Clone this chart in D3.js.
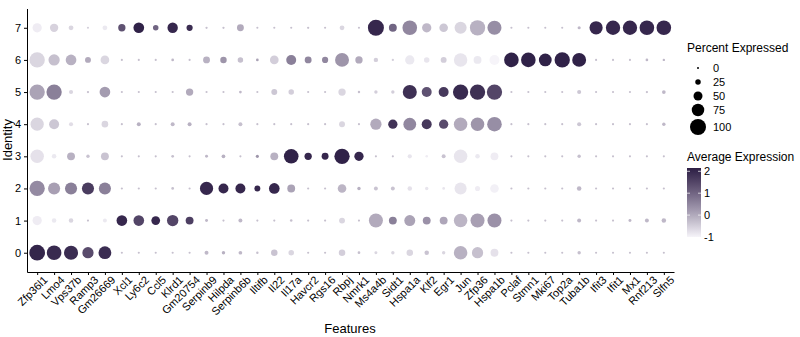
<!DOCTYPE html>
<html><head><meta charset="utf-8">
<script src="https://cdn.jsdelivr.net/npm/d3@7"></script>
<style>
body{margin:0;background:#fff;}
text{font-family:"Liberation Sans",Arial,sans-serif;}
</style></head>
<body><svg id="c" width="800" height="337"></svg>
<script>
const genes = ["Zfp36l1","Lmo4","Vps37b","Ramp3","Gm26669","Xcl1","Ly6c2","Ccl5","Klrd1","Gm20754","Serpinb9","Hilpda","Serpinb6b","Iltifb","Il22","Il17a","Havcr2","Rgs16","Rbpj","Nmrk1","Ms4a4b","Sidt1","Hspa1a","Klf2","Egr1","Jun","Zfp36","Hspa1b","Pclaf","Stmn1","Mki67","Top2a","Tuba1b","Ifit3","Ifit1","Mx1","Rnf213","Slfn5"];
const identities = ["0","1","2","3","4","5","6","7"];

// percent expressed per identity (one value per gene)
const pct0 = [98,90,86,66,77,1,1,1,1,1,14,10,12,3,32,25,1,1,32,5,7,10,32,18,10,82,66,42,1,1,1,1,10,1,1,1,1,1];
const pct1 = [52,18,18,1,14,62,62,48,67,42,7,1,14,1,1,4,1,1,28,1,86,42,64,42,42,82,86,86,1,1,1,1,14,1,1,7,14,18];
const pct2 = [95,72,72,72,72,1,1,1,5,1,80,57,57,28,62,42,1,1,47,10,14,14,18,10,5,72,22,47,1,1,1,1,18,1,1,1,1,1];
const pct3 = [82,18,42,10,42,1,1,1,5,1,7,12,1,8,42,90,38,35,95,52,1,1,16,4,14,82,18,42,1,1,1,1,10,1,1,1,1,1];
const pct4 = [80,57,15,1,33,1,14,1,14,14,1,1,14,1,1,1,1,1,28,1,66,52,77,57,52,82,82,90,1,1,1,1,15,1,1,1,1,10];
const pct5 = [95,95,15,2,62,1,1,1,1,38,1,1,5,1,28,25,1,1,38,3,10,10,86,57,57,95,95,95,1,1,1,1,15,1,1,1,2,12];
const pct6 = [95,66,62,28,48,1,1,1,5,1,35,32,25,5,48,57,35,30,85,38,17,2,52,25,28,82,42,57,90,90,77,95,85,1,1,1,5,3];
const pct7 = [52,45,20,1,20,38,62,25,60,30,2,2,35,1,1,1,2,1,20,1,100,42,90,52,47,72,95,86,1,1,1,1,8,80,88,88,90,90];

// average (scaled) expression per identity
const exp0 = [2.05,1.95,1.9,1.4,1.9,-0.3,-0.3,-0.3,-0.3,-0.3,-0.2,-0.1,-0.2,-0.3,-0.35,-0.6,-0.3,-0.3,-0.5,-0.3,-0.6,-0.6,-0.6,-0.35,-0.6,-0.1,-0.3,-0.75,-0.3,-0.3,-0.3,-0.3,-0.3,-0.3,-0.3,-0.3,-0.3,-0.3];
const exp1 = [-0.9,-0.85,-0.6,-0.3,-0.85,2.0,1.5,2.0,1.5,1.6,-0.2,-0.3,-0.2,-0.3,-0.3,-0.3,-0.3,-0.3,-0.6,-0.3,0.0,0.6,0.1,0.35,0.05,-0.15,0.15,0.35,-0.3,-0.3,-0.3,-0.3,-0.2,-0.3,-0.3,-0.2,-0.2,-0.2];
const exp2 = [0.45,0.15,0.6,1.65,0.6,-0.3,-0.3,-0.3,-0.3,-0.3,2.0,2.0,2.0,2.0,2.0,0.1,-0.3,-0.3,-0.15,-0.1,-0.35,-0.35,-0.75,-0.8,-0.8,-0.8,-0.9,-0.95,-0.3,-0.3,-0.3,-0.3,-0.2,-0.3,-0.3,-0.3,-0.3,-0.3];
const exp3 = [-0.75,-0.85,-0.1,-0.35,-0.35,-0.3,-0.3,-0.3,-0.3,-0.3,-0.2,-0.1,-0.3,0.3,-0.1,2.1,2.0,2.0,2.1,2.0,-0.3,-0.3,-0.8,-0.9,-0.35,-0.8,-0.85,-0.9,-0.3,-0.3,-0.3,-0.3,-0.3,-0.3,-0.3,-0.3,-0.3,-0.3];
const exp4 = [-0.6,-0.4,-0.7,-0.3,-0.6,-0.3,-0.1,-0.3,-0.2,-0.1,-0.3,-0.3,-0.3,-0.3,-0.3,-0.3,-0.3,-0.3,-0.6,-0.3,0.0,1.8,0.5,1.7,1.4,0.0,0.3,0.4,-0.3,-0.3,-0.3,-0.3,-0.4,-0.3,-0.3,-0.3,-0.3,-0.2];
const exp5 = [0.1,0.6,-0.6,-0.3,0.2,-0.3,-0.3,-0.3,-0.3,0.0,-0.3,-0.3,-0.2,-0.3,-0.4,-0.5,-0.3,-0.3,-0.6,-0.3,-0.5,-0.5,1.85,1.3,1.7,1.95,1.85,1.5,-0.3,-0.3,-0.3,-0.3,-0.4,-0.3,-0.3,-0.3,-0.3,-0.2];
const exp6 = [-0.6,-0.3,-0.1,0.0,-0.6,-0.3,-0.3,-0.3,-0.2,-0.3,-0.1,0.3,-0.3,0.1,-0.5,0.6,0.5,0.5,0.3,0.0,-0.5,-0.5,-0.85,-0.8,-0.5,-0.8,-0.85,-1.0,2.1,2.1,2.1,2.1,2.1,-0.3,-0.3,-0.3,-0.2,-0.2];
const exp7 = [-0.9,-0.55,-0.6,-0.5,-0.85,1.3,2.1,1.0,2.0,1.9,-0.3,-0.3,0.0,-0.3,-0.3,-0.3,-0.3,-0.3,-0.6,-0.3,2.0,1.0,0.5,-0.2,-0.4,-0.6,-0.1,0.4,-0.3,-0.3,-0.3,-0.3,-0.2,2.0,2.0,2.0,2.0,2.0];

const pctTicks = [0,25,50,75,100];
const expTicks = [-1,0,1,2];

const pctRows = [pct0,pct1,pct2,pct3,pct4,pct5,pct6,pct7];
const expRows = [exp0,exp1,exp2,exp3,exp4,exp5,exp6,exp7];
const data = [];
identities.forEach((id,r)=>genes.forEach((g,c)=>data.push({gene:g,id:id,pct:pctRows[r][c],exp:expRows[r][c]})));

const svg = d3.select("#c");
const x = d3.scalePoint().domain(genes).range([27,674]).padding(0.6);
const y = d3.scalePoint().domain(identities).range([272,8.5]).padding(0.6);
const rad = d3.scaleLinear().domain([0,100]).range([1,8]);
const expMin=-1, expMax=2.15;
const col = d3.scaleLinear().domain([expMin,expMax]).range(["#f6f4f9","#2d1f45"]).interpolate(d3.interpolateLab).clamp(true);

svg.append("g").selectAll("circle").data(data).join("circle")
  .attr("cx",d=>x(d.gene)).attr("cy",d=>y(d.id))
  .attr("r",d=>rad(d.pct)).attr("fill",d=>col(d.exp));

const ax = svg.append("g").attr("transform","translate(0,272)")
  .call(d3.axisBottom(x).tickSize(3).tickSizeOuter(0));
ax.selectAll("text").attr("transform",d=>"translate(3,1) rotate(-45)")
  .attr("text-anchor","end").attr("dy","0.71em").attr("y",3).attr("x",0)
  .attr("font-size",11).attr("fill","#000");
const ay = svg.append("g").attr("transform","translate(27,0)")
  .call(d3.axisLeft(y).tickSize(3).tickSizeOuter(0));
ay.selectAll("text").attr("font-size",11).attr("fill","#000").attr("x",-6);
svg.selectAll(".domain,.tick line").attr("stroke","#000").attr("stroke-width",1);
svg.selectAll(".tick text").style("font-family","'Liberation Sans',Arial,sans-serif");

svg.append("text").attr("x",350).attr("y",333).attr("text-anchor","middle").attr("font-size",13).text("Features");
svg.append("text").attr("transform","translate(12,140) rotate(-90)").attr("text-anchor","middle").attr("font-size",13).text("Identity");

// size legend
const lg = svg.append("g");
lg.append("text").attr("x",687).attr("y",52).attr("font-size",12).text("Percent Expressed");
const keyY = [68,82,96,110,127];
pctTicks.forEach((p,i)=>{
  lg.append("circle").attr("cx",698).attr("cy",keyY[i]).attr("r",rad(p)).attr("fill","#000");
  lg.append("text").attr("x",713).attr("y",keyY[i]).attr("dy","0.35em").attr("font-size",11).text(p);
});

// colour legend
lg.append("text").attr("x",687).attr("y",161).attr("font-size",12).text("Average Expression");
const cbTop=168, cbBot=237;
const cy = d3.scaleLinear().domain([expMin,expMax]).range([cbBot,cbTop]);
const defs = svg.append("defs");
const grad = defs.append("linearGradient").attr("id","g").attr("x1",0).attr("y1",1).attr("x2",0).attr("y2",0);
d3.range(0,1.0001,0.1).forEach(t=>grad.append("stop").attr("offset",t).attr("stop-color",col(expMin+t*(expMax-expMin))));
lg.append("rect").attr("x",687).attr("y",cbTop).attr("width",14).attr("height",cbBot-cbTop).attr("fill","url(#g)");
expTicks.forEach(v=>{
  if(v>expMin){
  lg.append("line").attr("x1",687).attr("x2",690).attr("y1",cy(v)).attr("y2",cy(v)).attr("stroke","#fff").attr("stroke-opacity",0.7);
  lg.append("line").attr("x1",698).attr("x2",701).attr("y1",cy(v)).attr("y2",cy(v)).attr("stroke","#fff").attr("stroke-opacity",0.7);}
  lg.append("text").attr("x",704).attr("y",cy(v)).attr("dy","0.35em").attr("font-size",11).text(v);
});
</script></body></html>
